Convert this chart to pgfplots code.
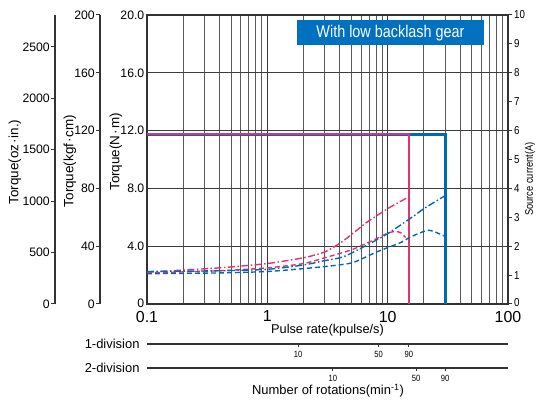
\documentclass[border=0pt]{standalone}
\usepackage{fontspec}
\setmainfont{Liberation Sans}
\newfontfamily\condfont[FakeStretch=0.85]{Liberation Sans}
\usepackage{pgfplots}
\pgfplotsset{compat=1.18}
\definecolor{cred}{HTML}{E5326C}
\definecolor{cblue}{HTML}{0068B7}
\definecolor{boxblue}{HTML}{0070C0}
\definecolor{gridc}{HTML}{3C3C3C}
\definecolor{axc}{HTML}{333333}
\pgfplotsset{every axis/.append style={/pgf/number format/assume math mode=true, /pgf/number format/1000 sep={}}}
\begin{document}
\begin{tikzpicture}
\useasboundingbox (0,0) rectangle (537bp,400bp);
% ---------- main torque axis (N m) ----------
\begin{axis}[
  at={(147bp,96bp)}, anchor=south west,
  scale only axis, width=361bp, height=289bp,
  xmode=log, xmin=0.1, xmax=100, ymin=0, ymax=20,
  xtick={0.1,1,10,100}, xticklabels={0.1,1,10,100},
  ytick={0,4,8,12,16,20}, yticklabels={\raisebox{2.5bp}{0},4.0,8.0,12.0,16.0,20.0},
  xmajorgrids, xminorgrids, ymajorgrids,
  major grid style={gridc, line width=0.9bp},
  minor grid style={gridc!85, line width=0.9bp},
  major tick length=0pt, minor tick length=0pt,
  axis line style={axc, line width=1.2bp},
  yticklabel style={font=\fontsize{12.3}{14}\selectfont, inner sep=2.5bp},
  xticklabel style={font=\fontsize{16}{18}\selectfont, yshift=-3.5bp},
  clip=false,
]
\addplot[cblue, line width=3bp] coordinates {(0.1,11.75) (30,11.75) (30,0)};
\addplot[cred, line width=1.8bp] coordinates {(0.1,11.75) (15,11.75) (15,0)};
\node[fill=boxblue, text=white, minimum width=187bp, minimum height=25bp, inner sep=0pt,
      font=\condfont\fontsize{17}{19}\selectfont] at (rel axis cs:0.6745,0.939) {With low backlash gear};
\end{axis}
% ---------- source current axis (A) ----------
\begin{axis}[
  at={(147bp,96bp)}, anchor=south west,
  scale only axis, width=361bp, height=289bp,
  xmode=log, xmin=0.1, xmax=100, ymin=0, ymax=10,
  hide x axis, axis y line*=right,
  ytick={0,1,...,10}, yticklabels={\raisebox{2.5bp}{0},1,2,3,4,5,6,7,8,9,10},
  tick align=outside, major tick length=4bp,
  tick style={axc, line width=1bp},
  axis line style={axc, line width=1.2bp},
  yticklabel style={font=\condfont\fontsize{11.5}{13}\selectfont, inner sep=2bp},
]
\addplot[cred, line width=1.4bp, smooth, tension=0.4, dash pattern=on 7bp off 2.5bp on 1.5bp off 2.5bp]
  coordinates {(0.1,1.10)(0.2,1.175)(0.4,1.25)(1,1.40)(2,1.60)(3,1.80)(4,2.10)(5,2.40)(6.7,2.825)(10,3.30)(12.8,3.55)(14.5,3.675)};
\addplot[cred, line width=1.4bp, smooth, tension=0.4, dash pattern=on 5bp off 3bp]
  coordinates {(0.1,1.075)(0.4,1.15)(1,1.25)(2,1.40)(3,1.60)(4,1.75)(5.2,1.90)(8.2,2.275)(10,2.45)(11.5,2.51)(12.8,2.47)(14.1,2.30)};
\addplot[cblue, line width=1.4bp, smooth, tension=0.4, dash pattern=on 7bp off 2.5bp on 1.5bp off 2.5bp]
  coordinates {(0.1,1.125)(0.4,1.15)(1,1.20)(2,1.35)(3,1.50)(4.3,1.635)(6.7,2.035)(10,2.435)(15.9,3.0)(20,3.3)(29.4,3.725)};
\addplot[cblue, line width=1.4bp, smooth, tension=0.4, dash pattern=on 5bp off 3bp]
  coordinates {(0.1,1.05)(0.4,1.075)(1,1.125)(2,1.225)(3.58,1.33)(5.2,1.44)(8.2,1.81)(12.8,2.125)(15.5,2.32)(21.9,2.55)(29.4,2.355)};
\end{axis}
% ---------- kgf cm axis ----------
\begin{axis}[
  at={(100bp,96bp)}, anchor=south west,
  scale only axis, width=1bp, height=289bp,
  xmin=0, xmax=1, ymin=0, ymax=200,
  hide x axis, axis y line*=left,
  ytick={0,40,...,200},
  tick align=outside, major tick length=4bp,
  tick style={axc, line width=1bp},
  axis line style={axc, line width=1.2bp},
  yticklabel style={font=\fontsize{12.3}{14}\selectfont, inner sep=1bp},
]
\addplot[draw=none] coordinates {(0,0)(1,200)};
\end{axis}
% ---------- oz in axis ----------
\begin{axis}[
  at={(55bp,96bp)}, anchor=south west,
  scale only axis, width=1bp, height=289bp,
  xmin=0, xmax=1, ymin=0, ymax=2810,
  hide x axis, axis y line*=left,
  ytick={0,500,...,2500},
  tick align=outside, major tick length=4bp,
  tick style={axc, line width=1bp},
  axis line style={axc, line width=1.2bp},
  yticklabel style={font=\fontsize{12.3}{14}\selectfont, inner sep=1bp},
]
\addplot[draw=none] coordinates {(0,0)(1,2800)};
\end{axis}
% ---------- 1-division scale ----------
\begin{axis}[
  at={(147bp,56bp)}, anchor=south west,
  scale only axis, width=361bp, height=1bp,
  xmode=log, xmin=0.1, xmax=100, ymin=0, ymax=1,
  hide y axis, axis x line*=bottom, xminorticks=false,
  xtick={1.8,8.4,15}, xticklabels={10,50,90},
  tick align=outside, major tick length=3bp,
  tick style={axc, line width=0.9bp},
  axis line style={axc, line width=1.2bp},
  xticklabel style={font=\condfont\fontsize{9}{10}\selectfont, yshift=-1bp},
]
\addplot[draw=none] coordinates {(1,0)(10,1)};
\end{axis}
% ---------- 2-division scale ----------
\begin{axis}[
  at={(147bp,32bp)}, anchor=south west,
  scale only axis, width=361bp, height=1bp,
  xmode=log, xmin=0.1, xmax=100, ymin=0, ymax=1,
  hide y axis, axis x line*=bottom, xminorticks=false,
  xtick={3.5,17.2,30}, xticklabels={10,50,90},
  tick align=outside, major tick length=3bp,
  tick style={axc, line width=0.9bp},
  axis line style={axc, line width=1.2bp},
  xticklabel style={font=\condfont\fontsize{9}{10}\selectfont, yshift=-1bp},
]
\addplot[draw=none] coordinates {(1,0)(10,1)};
\end{axis}
% ---------- labels ----------
\node[rotate=90, font=\fontsize{13.5}{15}\selectfont] at (15bp,238bp) {Torque(oz\kern1pt·\kern1pt in.)};
\node[rotate=90, font=\fontsize{13.5}{15}\selectfont] at (70bp,239bp) {Torque(kgf\kern1pt·\kern1pt cm)};
\node[rotate=90, font=\fontsize{13.5}{15}\selectfont] at (116bp,248bp) {Torque(N\kern1pt·\kern1pt m)};
\node[rotate=90, font=\condfont\fontsize{11}{12}\selectfont] at (530bp,221bp) {Source current(A)};
\node[font=\fontsize{12.8}{14}\selectfont] at (327.5bp,70bp) {Pulse rate(kpulse/s)};
\node[anchor=east, font=\fontsize{13}{15}\selectfont] at (143bp,56bp) {1-division};
\node[anchor=east, font=\fontsize{13}{15}\selectfont] at (143bp,32bp) {2-division};
\node[font=\fontsize{13}{15}\selectfont] at (328bp,9bp) {Number of rotations(min\textsuperscript{-1})};
\end{tikzpicture}
\end{document}
